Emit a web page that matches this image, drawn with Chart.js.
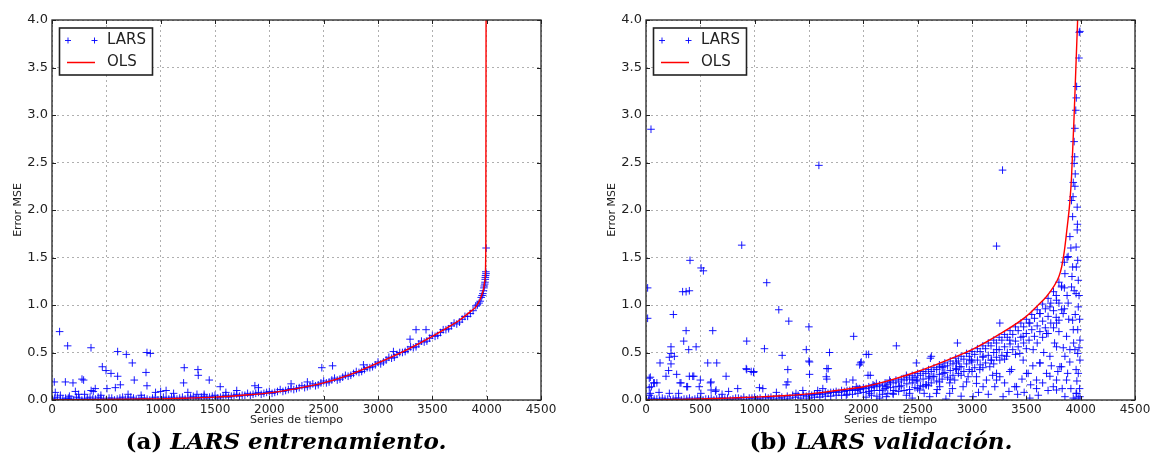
<!DOCTYPE html>
<html>
<head>
<meta charset="utf-8">
<script src="https://cdn.jsdelivr.net/npm/chart.js@4.4.1/dist/chart.umd.min.js"></script>
<style>
body{margin:0;background:#fff;width:1162px;height:476px;position:relative;overflow:hidden;}
.panel{position:absolute;top:0;height:430px;}
#wrapA{left:0;width:570px;}
#wrapB{left:594px;width:568px;}
.cap{position:absolute;top:428px;font-family:"DejaVu Serif",serif;font-weight:bold;font-size:23px;line-height:26px;color:#000;white-space:nowrap;transform:translateX(-50%);}
</style>
</head>
<body>
<div class="panel" id="wrapA"><canvas id="chartA" width="570" height="430"></canvas></div>
<div class="panel" id="wrapB"><canvas id="chartB" width="568" height="430"></canvas></div>
<div class="cap" style="left:286px">(a) <i>LARS entrenamiento.</i></div>
<div class="cap" style="left:881px">(b) <i>LARS validación.</i></div>
<script>
// ---------- DATA ----------
const xTicks = [0, 500, 1000, 1500, 2000, 2500, 3000, 3500, 4000, 4500];
const yTicks = [0.0, 0.5, 1.0, 1.5, 2.0, 2.5, 3.0, 3.5, 4.0];

// (a) entrenamiento: OLS curve
const trainOlsX = [0, 250, 500, 750, 1000, 1250, 1500, 1750, 2000, 2250, 2500, 2750, 3000, 3250, 3500, 3650, 3750, 3850, 3900, 3940, 3970, 3985, 3992, 3995];
const trainOlsY = [0, 0.003, 0.006, 0.009, 0.012, 0.02, 0.03, 0.05, 0.075, 0.12, 0.18, 0.27, 0.39, 0.52, 0.67, 0.77, 0.84, 0.93, 0.98, 1.06, 1.16, 1.27, 1.6, 4.6];

// (a) LARS points following the curve
const trainLarsBand = [[0,0.01],[50,0.03],[100,0.01],[150,0.02],[200,0.0],[250,0.02],[300,0.01],[350,0.03],[400,0.01],[450,0.02],
[500,0.0],[550,0.02],[600,0.01],[650,0.03],[700,0.01],[750,0.02],[800,0.01],[850,0.02],[900,0.0],[950,0.03],
[1000,0.01],[1050,0.02],[1100,0.03],[1150,0.01],[1200,0.03],[1250,0.02],[1300,0.04],[1350,0.02],[1400,0.04],[1450,0.03],
[1500,0.05],[1550,0.03],[1600,0.05],[1650,0.04],[1700,0.06],[1750,0.05],[1800,0.07],[1850,0.06],[1900,0.08],[1950,0.07],
[2000,0.09],[2050,0.08],[2100,0.11],[2150,0.10],[2200,0.12],[2250,0.12],[2300,0.15],[2350,0.14],[2400,0.17],[2450,0.16],
[2500,0.20],[2550,0.19],[2600,0.23],[2650,0.22],[2700,0.26],[2750,0.26],[2800,0.30],[2850,0.30],[2900,0.34],[2950,0.35],
[3000,0.40],[3050,0.40],[3100,0.45],[3150,0.45],[3200,0.50],[3250,0.51],[3300,0.56],[3350,0.56],[3400,0.62],[3450,0.62],
[3500,0.68],[3550,0.68],[3600,0.74],[3650,0.75],[3700,0.81],[3750,0.82],[3800,0.88],[3850,0.91],[3900,0.99],[3930,1.02],
[3950,1.08],[3965,1.12],[3975,1.18],[3982,1.22],[3987,1.27],[3990,1.31],[3992,1.35],
[25,0.02],[75,0.0],[125,0.02],[175,0.01],[225,0.03],[275,0.0],[325,0.02],[375,0.01],[425,0.03],[475,0.01],
[525,0.02],[575,0.0],[625,0.02],[675,0.01],[725,0.03],[775,0.01],[825,0.02],[875,0.01],[925,0.02],[975,0.0],
[1025,0.03],[1075,0.01],[1125,0.02],[1175,0.02],[1225,0.01],[1275,0.03],[1325,0.02],[1375,0.03],[1425,0.02],[1475,0.04],
[1525,0.02],[1575,0.04],[1625,0.03],[1675,0.05],[1725,0.04],[1775,0.05],[1825,0.05],[1875,0.07],[1925,0.06],[1975,0.08],
[2025,0.07],[2075,0.09],[2125,0.09],[2175,0.11],[2225,0.11],[2275,0.13],[2325,0.13],[2375,0.15],[2425,0.15],[2475,0.18],
[2525,0.18],[2575,0.21],[2625,0.21],[2675,0.24],[2725,0.25],[2775,0.28],[2825,0.29],[2875,0.32],[2925,0.34],[2975,0.37],
[3025,0.38],[3075,0.42],[3125,0.44],[3175,0.48],[3225,0.50],[3275,0.53],[3325,0.55],[3375,0.59],[3425,0.61],[3475,0.65],
[3525,0.67],[3575,0.71],[3625,0.74],[3675,0.78],[3725,0.80],[3775,0.85],[3825,0.88],[3875,0.94],[3915,1.0],[3940,1.04],
[3958,1.1],[3970,1.15],[3978,1.2],[3985,1.24],[3988,1.29]];

// (a) LARS points off the curve
const trainLarsOff = [[70,0.72],[144,0.57],[359,0.55],[21,0.19],[123,0.19],[193,0.18],[276,0.22],[291,0.21],[463,0.35],[497,0.31],
[543,0.28],[604,0.51],[684,0.48],[604,0.25],[739,0.39],[757,0.21],[874,0.5],[905,0.49],[865,0.29],[874,0.15],
[953,0.08],[1217,0.34],[1211,0.18],[1343,0.32],[1346,0.26],[1447,0.21],[1548,0.14],[1867,0.15],[2483,0.34],[2582,0.36],
[380,0.09],[360,0.1],[215,0.09],[77,0.05],[245,0.06],[398,0.12],[506,0.12],[583,0.13],[629,0.16],[1119,0.07],
[1334,0.06],[2866,0.37],[3142,0.51],[3295,0.64],[3350,0.74],[3442,0.74],[3995,1.6],[3994,1.33],[30,0.08],[160,0.04],
[300,0.06],[450,0.05],[700,0.06],[820,0.05],[1000,0.09],[1050,0.1],[1250,0.08],[1400,0.06],[1600,0.08],[1700,0.1],
[1900,0.13],[2200,0.17],[2350,0.19]];

// (b) validación: OLS curve
const validOlsX = [0, 250, 500, 750, 1000, 1250, 1500, 1750, 2000, 2250, 2500, 2750, 3000, 3250, 3500, 3600, 3686, 3750, 3800, 3825, 3850, 3870, 3900, 3916, 3940, 3972, 3990];
const validOlsY = [0, 0.005, 0.01, 0.02, 0.03, 0.045, 0.065, 0.1, 0.14, 0.21, 0.30, 0.41, 0.53, 0.69, 0.88, 0.99, 1.09, 1.19, 1.30, 1.40, 1.57, 1.76, 2.08, 2.35, 3.0, 4.0, 4.6];

// (b) LARS points crowding just under the curve
const validLarsBand = [[0,0.01],[50,0.02],[100,0.01],[150,0.02],[200,0.01],[250,0.01],[300,0.02],[350,0.01],[400,0.02],[450,0.01],
[500,0.02],[550,0.01],[600,0.02],[650,0.01],[700,0.02],[750,0.02],[800,0.01],[850,0.02],[900,0.03],[950,0.02],
[1000,0.03],[1050,0.02],[1100,0.03],[1150,0.03],[1200,0.04],[1250,0.03],[1300,0.04],[1350,0.05],[1400,0.05],[1450,0.05],
[1500,0.06],[1550,0.06],[1600,0.07],[1650,0.08],[1700,0.08],[1750,0.09],[1800,0.1],[1850,0.1],[1900,0.11],[1950,0.12],
[2000,0.13],[2050,0.14],[2100,0.15],[2150,0.16],[2200,0.18],[2250,0.19],[2300,0.21],[2350,0.22],[2400,0.24],[2450,0.26],
[2500,0.28],[2550,0.3],[2600,0.32],[2650,0.34],[2700,0.37],[2750,0.39],[2800,0.41],[2850,0.44],[2900,0.46],[2950,0.49],
[3000,0.51],[3050,0.54],[3100,0.57],[3150,0.6],[3200,0.63],[3250,0.66],[3300,0.69],[3350,0.73],[3400,0.77],[3450,0.81],
[3500,0.85],[3550,0.9],[3600,0.95],[3650,1.01],[3700,1.07],[3750,1.14],[3800,1.24],[3850,1.45],
[25,0.0],[75,0.01],[125,0.0],[175,0.01],[225,0.0],[275,0.02],[325,0.0],[375,0.01],[425,0.0],[475,0.02],
[525,0.0],[575,0.01],[625,0.0],[675,0.02],[725,0.01],[775,0.0],[825,0.02],[875,0.01],[925,0.0],[975,0.02],
[1025,0.01],[1075,0.0],[1125,0.02],[1175,0.01],[1225,0.02],[1275,0.01],[1325,0.02],[1375,0.03],[1425,0.02],[1475,0.04],
[1525,0.05],[1575,0.06],[1625,0.06],[1675,0.07],[1725,0.08],[1775,0.08],[1825,0.09],[1875,0.1],[1925,0.1],[1975,0.11],
[2025,0.12],[2075,0.13],[2125,0.14],[2175,0.15],[2225,0.16],[2275,0.18],[2325,0.19],[2375,0.21],[2425,0.22],[2475,0.24],
[2525,0.26],[2575,0.28],[2625,0.3],[2675,0.32],[2725,0.34],[2775,0.36],[2825,0.38],[2875,0.41],[2925,0.43],[2975,0.46],
[3025,0.48],[3075,0.51],[3125,0.54],[3175,0.57],[3225,0.6],[3275,0.63],[3325,0.66],[3375,0.69],[3425,0.73],[3475,0.77],
[3525,0.81],[3575,0.86],[3625,0.91],[3675,0.96],[3725,1.02],[3775,1.1],[3825,1.2],[3875,1.5],
[1500,0.02],[1550,0.03],[1600,0.03],[1650,0.04],[1700,0.04],[1750,0.05],[1800,0.05],[1850,0.06],[1900,0.06],[1950,0.07],
[2000,0.08],[2050,0.09],[2100,0.1],[2150,0.1],[2200,0.12],[2250,0.13],[2300,0.14],[2350,0.15],[2400,0.17],[2450,0.18],
[2500,0.2],[2550,0.22],[2600,0.23],[2650,0.25],[2700,0.27],[2750,0.29],[2800,0.31],[2850,0.33],[2900,0.35],[2950,0.38],
[3000,0.4],[3050,0.42],[3100,0.45],[3150,0.47],[3200,0.5],[3250,0.53],[3300,0.56],[3350,0.59],[3400,0.62],[3450,0.66],
[3500,0.7],[3550,0.74],[3600,0.78],[3650,0.83],[3700,0.88],[3750,0.94],[3800,1.02],[3850,1.18],
[2025,0.03],[2075,0.05],[2125,0.04],[2175,0.06],[2225,0.07],[2275,0.06],[2325,0.09],[2375,0.1],[2425,0.11],[2475,0.13],
[2525,0.15],[2575,0.16],[2625,0.18],[2675,0.2],[2725,0.22],[2775,0.24],[2825,0.26],[2875,0.28],[2925,0.3],[2975,0.32],
[3025,0.34],[3075,0.37],[3125,0.39],[3175,0.42],[3225,0.45],[3275,0.47],[3325,0.5],[3375,0.53],[3425,0.56],[3475,0.6],
[3525,0.63],[3575,0.67],[3625,0.72],[3675,0.76],[3725,0.81],[3775,0.87],[3825,0.95],[3875,1.1],
[2500,0.12],[2600,0.15],[2700,0.19],[2800,0.22],[2900,0.26],[3000,0.30],[3100,0.34],[3200,0.38],[3300,0.43],[3400,0.48],
[3500,0.54],[3600,0.60],[3650,0.66],[3700,0.70],[3750,0.76],[3800,0.84],[3850,0.96]];

// (b) LARS points spread under the curve, right side
const validLarsCloud = [[3993,3.88],[3987,3.87],[3984,3.6],[3963,3.3],[3960,3.18],[3955,3.05],[3947,2.86],[3940,2.72],[3945,2.56],[3940,2.49],
[3950,2.38],[3932,2.29],[3930,2.14],[3947,2.25],[3916,2.1],[3968,2.03],[3926,1.93],[3968,1.79],[3901,1.72],[3958,1.61],
[3885,1.51],[3973,1.47],[3926,1.40],[3855,1.33],[3978,1.26],[3916,1.19],[3824,1.19],[3958,1.12],[3778,1.05],[3885,1.02],
[3978,0.98],[3717,0.98],[3839,0.91],[3926,0.84],[3625,0.91],[3778,0.81],[3532,0.81],[3973,0.74],[3870,0.67],[3686,0.70],
[3471,0.67],[3348,0.63],[3778,0.56],[3901,0.53],[3563,0.53],[3973,0.49],[3717,0.46],[3440,0.49],[3256,0.42],[3625,0.39],
[3824,0.35],[3958,0.32],[3348,0.30],[3502,0.28],[3717,0.25],[3870,0.21],[3226,0.21],[3394,0.14],[3594,0.12],[3778,0.105],
[3958,0.07],[3978,0.02],[3947,0.0],[3532,0.02],[3286,0.035],[3855,0.035],
[3993,0.035],[3963,0.07],[3932,0.02],[3978,0.28],[3993,0.42],[3947,0.53],[3993,0.63],[3932,0.74],[3855,0.46],[3809,0.35],
[3778,0.21],[3748,0.14],[3686,0.28],[3625,0.39],[3594,0.21],[3517,0.28],[3471,0.42],[3410,0.14],[3364,0.32],[3318,0.46],
[3256,0.245],[3226,0.53],[3164,0.35],[3102,0.14],[3041,0.245],[2980,0.42],[2918,0.14],[2857,0.32],[2795,0.18],[2734,0.35],
[2673,0.07],[2611,0.245],[2550,0.14],[2488,0.21],[2427,0.07],[2334,0.14],[2273,0.07],[2212,0.14],[2626,0.46],[2488,0.39],
[1843,0.05],[1935,0.14],[1904,0.21],[2058,0.07],[2120,0.175],[2212,0.035],[2181,0.105],[2396,0.05],[2457,0.21],[2519,0.105],
[2580,0.16],[2611,0.035],[2642,0.245],[2703,0.14],[2734,0.28],[2795,0.07],[2841,0.21],[2887,0.35],[2964,0.245],[3010,0.035],
[3041,0.175],[3072,0.32],[3133,0.21],[3180,0.42],[3210,0.14],[3226,0.28],[3102,0.46],[2995,0.42],[2857,0.39],[2703,0.35],
[2396,0.26],[2242,0.21],[2089,0.16],[1966,0.12],[2866,0.60],[2304,0.57],[2027,0.48],[1981,0.40],[2617,0.44],[3256,0.81],
[3420,0.06],[3460,0.22],[3540,0.16],[3560,0.36],[3610,0.05],[3650,0.18],[3660,0.5],[3700,0.1],[3730,0.36],[3760,0.6],
[3790,0.3],[3800,0.72],[3830,0.12],[3840,0.55],[3880,0.28],[3890,0.85],[3900,0.4],[3910,0.12],[3920,1.3],[3935,0.6],
[3950,0.9],[3960,1.4],[3965,0.2],[3985,0.55],[3990,0.12],[3985,1.1],[3970,1.85],[3990,0.85],[3940,1.15],[3910,1.6],
[2150,0.02],[2280,0.1],[2450,0.02],[2560,0.07],[2680,0.11],[2760,0.01],[2820,0.12],[2900,0.04],[2950,0.19],[3060,0.08],
[3150,0.06],[3190,0.26],[3300,0.18],[3340,0.09],[3480,0.08]];

// (b) LARS points off the curve, left side and high outliers
const validLarsOff = [[46,2.85],[1591,2.47],[3281,2.42],[3226,1.62],[881,1.63],[405,1.47],[507,1.39],[528,1.36],[1111,1.235],[15,1.18],
[337,1.14],[369,1.14],[399,1.15],[15,0.86],[252,0.90],[1222,0.95],[1314,0.83],[1499,0.77],[369,0.73],[614,0.73],
[347,0.62],[927,0.62],[230,0.56],[393,0.53],[461,0.56],[230,0.49],[261,0.46],[215,0.45],[129,0.39],[1090,0.54],
[1253,0.47],[1475,0.53],[1499,0.41],[1689,0.50],[230,0.38],[568,0.39],[651,0.39],[208,0.31],[40,0.24],[927,0.32],
[989,0.29],[1305,0.32],[1664,0.33],[1505,0.27],[1664,0.22],[282,0.27],[399,0.25],[440,0.25],[737,0.25],[599,0.19],
[70,0.18],[100,0.18],[30,0.13],[313,0.18],[383,0.14],[490,0.14],[599,0.105],[645,0.105],[844,0.12],[1044,0.13],
[1305,0.19],[1443,0.1],[505,0.07],[215,0.07],[30,0.05],[1580,0.1],[1911,0.67],[2049,0.48],[1975,0.39],[2064,0.26],
[1505,0.40],[1677,0.33],[1659,0.245],[1966,0.37],[2043,0.26],[1843,0.19],[1627,0.12],[1290,0.16],[1075,0.12],[992,0.30],
[968,0.30],[922,0.33],[593,0.18],[500,0.21],[639,0.09],[430,0.25],[374,0.14],[322,0.18],[184,0.25],[77,0.18],
[30,0.23],[50,0.14],[40,0.07],[120,0.08],[300,0.07],[700,0.06],[760,0.09],[1200,0.08],[1380,0.07]];

// ---------- HELPERS ----------
const toPts = (xs, ys) => xs.map((x, i) => ({x: x, y: ys[i]}));
const fromPairs = list => list.map(p => ({x: p[0], y: p[1]}));

const BLUE = "rgba(0,0,255,0.9)";
const RED = "#ff0000";
const INK = "#222";

// frame, inward ticks (all four sides) and the boxed legend
const framePlugin = {
  id: "frame",
  afterDatasetsDraw(chart){
    const {ctx, chartArea: a, scales: {x, y}} = chart;
    ctx.save();
    ctx.strokeStyle = INK;
    ctx.lineWidth = 1;
    ctx.beginPath();
    xTicks.forEach(v => {
      const px = Math.round(x.getPixelForValue(v)) + 0.5;
      ctx.moveTo(px, a.bottom); ctx.lineTo(px, a.bottom - 4);
      ctx.moveTo(px, a.top); ctx.lineTo(px, a.top + 4);
    });
    yTicks.forEach(v => {
      const py = Math.round(y.getPixelForValue(v)) + 0.5;
      ctx.moveTo(a.left, py); ctx.lineTo(a.left + 4, py);
      ctx.moveTo(a.right, py); ctx.lineTo(a.right - 4, py);
    });
    ctx.stroke();
    ctx.lineWidth = 1.3;
    ctx.strokeRect(a.left, a.top, a.right - a.left, a.bottom - a.top);

    // legend
    const lx = a.left + 7.5, ly = a.top + 8;
    ctx.fillStyle = "#fff";
    ctx.fillRect(lx, ly, 93, 47);
    ctx.lineWidth = 1.6;
    ctx.strokeStyle = INK;
    ctx.strokeRect(lx, ly, 93, 47);

    ctx.strokeStyle = BLUE;
    ctx.lineWidth = 1;
    [a.left + 16, a.left + 42.5].forEach(cx => {
      const cy = a.top + 20.5;
      ctx.beginPath();
      ctx.moveTo(cx - 3, cy); ctx.lineTo(cx + 3, cy);
      ctx.moveTo(cx, cy - 3); ctx.lineTo(cx, cy + 3);
      ctx.stroke();
    });
    ctx.strokeStyle = RED;
    ctx.lineWidth = 1.5;
    ctx.beginPath();
    ctx.moveTo(a.left + 15, a.top + 42.5); ctx.lineTo(a.left + 43, a.top + 42.5);
    ctx.stroke();

    ctx.fillStyle = INK;
    ctx.font = "15px 'DejaVu Sans'";
    ctx.textBaseline = "middle";
    ctx.textAlign = "left";
    ctx.fillText("LARS", a.left + 55, a.top + 20.5);
    ctx.fillText("OLS", a.left + 55, a.top + 42.5);
    ctx.restore();
  }
};

function makeChart(id, olsPts, larsPts, padRight){
  return new Chart(document.getElementById(id), {
    type: "scatter",
    data: {
      datasets: [
        {
          label: "OLS",
          data: olsPts,
          showLine: true,
          borderColor: RED,
          borderWidth: 1.4,
          pointRadius: 0,
          cubicInterpolationMode: "monotone",
          clip: 0
        },
        {
          label: "LARS",
          data: larsPts,
          pointStyle: "cross",
          pointRadius: 3.8,
          pointBorderColor: BLUE,
          pointBackgroundColor: BLUE,
          pointBorderWidth: 1,
          clip: 0
        }
      ]
    },
    options: {
      responsive: false,
      animation: false,
      events: [],
      layout: {padding: {left: 0, top: 20, right: padRight, bottom: 0}},
      plugins: {legend: {display: false}, tooltip: {enabled: false}},
      scales: {
        x: {
          type: "linear",
          min: 0, max: 4500,
          afterBuildTicks: s => { s.ticks = xTicks.map(v => ({value: v})); },
          ticks: {color: INK, padding: 3, maxRotation: 0, autoSkip: false,
                  callback: v => String(v),
                  font: {family: "DejaVu Sans", size: 12}},
          grid: {color: "#9a9a9a", lineWidth: 0.8, drawTicks: false},
          border: {display: false, dash: [2, 3]},
          title: {display: true, text: "Series de tiempo", color: INK,
                  font: {family: "DejaVu Sans", size: 11}, padding: {top: 0, bottom: 3}},
          afterFit: s => { s.height = 30; }
        },
        y: {
          min: 0, max: 4,
          afterBuildTicks: s => { s.ticks = yTicks.map(v => ({value: v})); },
          ticks: {color: INK, padding: 4, callback: v => v.toFixed(1),
                  font: {family: "DejaVu Sans", size: 13}},
          grid: {color: "#9a9a9a", lineWidth: 0.8, drawTicks: false},
          border: {display: false, dash: [2, 3]},
          title: {display: true, text: "Error MSE", color: INK,
                  font: {family: "DejaVu Sans", size: 11}, padding: {top: 12, bottom: 0}},
          afterFit: s => { s.width = 52; }
        }
      }
    },
    plugins: [framePlugin]
  });
}

makeChart("chartA",
  toPts(trainOlsX, trainOlsY),
  fromPairs(trainLarsBand).concat(fromPairs(trainLarsOff)),
  29);

makeChart("chartB",
  toPts(validOlsX, validOlsY),
  fromPairs(validLarsBand).concat(fromPairs(validLarsCloud), fromPairs(validLarsOff)),
  27);
</script>
</body>
</html>
